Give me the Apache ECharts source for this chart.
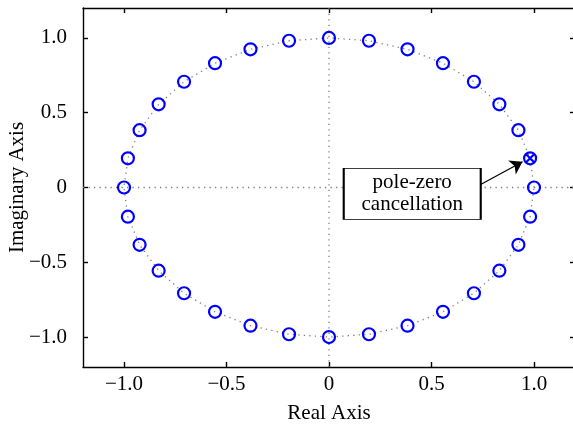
<!DOCTYPE html>
<html><head><meta charset="utf-8">
<script src="https://cdn.jsdelivr.net/npm/echarts@6/dist/echarts.min.js"></script>
<style>html,body{margin:0;padding:0;background:#fff}#c{width:573px;height:428px}</style>
</head><body><div id="c"></div>
<script>
// zeros (real, imaginary)
var zeroRe = [1, 0.981, 0.924, 0.831, 0.707, 0.556, 0.383, 0.195, 0, -0.195, -0.383, -0.556, -0.707, -0.831, -0.924, -0.981,
              -1, -0.981, -0.924, -0.831, -0.707, -0.556, -0.383, -0.195, 0, 0.195, 0.383, 0.556, 0.707, 0.831, 0.924, 0.981];
var zeroIm = [0, 0.195, 0.383, 0.556, 0.707, 0.831, 0.924, 0.981, 1, 0.981, 0.924, 0.831, 0.707, 0.556, 0.383, 0.195,
              0, -0.195, -0.383, -0.556, -0.707, -0.831, -0.924, -0.981, -1, -0.981, -0.924, -0.831, -0.707, -0.556, -0.383, -0.195];
var poleRe = [0.981];
var poleIm = [0.195];
var tickValues = [-1, -0.5, 0, 0.5, 1];
var tickLabels = ['\u22121.0', '\u22120.5', '0', '0.5', '1.0'];
var annotationText = 'pole-zero\ncancellation';
var annotationAt = [0.406, -0.043];
var arrowFrom = [0.74, 0.02];
var arrowTo = [0.944, 0.172];
var axisMin = -1.2, axisMax = 1.2;

var zeros = zeroRe.map(function (r, i) { return [r, zeroIm[i]]; });
var poles = poleRe.map(function (r, i) { return [r, poleIm[i]]; });
var loop = zeros.concat([zeros[0]]);

var font = 'Liberation Serif';
var fs = 21;
function fmt(v) {
  for (var i = 0; i < tickValues.length; i++) if (Math.abs(tickValues[i] - v) < 1e-9) return tickLabels[i];
  return '';
}
var dotted = { color: '#7f7f7f', width: 1.3, type: [1.3, 4.2] };
function axisBase(extra) {
  var a = {
    type: 'value', min: axisMin, max: axisMax,
    axisLine: { show: true, onZero: false, lineStyle: { color: '#000', width: 1.4 } },
    axisTick: { show: true, inside: true, length: 5, lineStyle: { color: '#000', width: 1.4 }, customValues: tickValues },
    axisLabel: { show: false },
    splitLine: { show: false }
  };
  for (var k in extra) a[k] = extra[k];
  return a;
}

var chart = echarts.init(document.getElementById('c'), null, { renderer: 'canvas' });
chart.setOption({
  animation: false,
  backgroundColor: '#fff',
  grid: { left: 83, right: -2, top: 8, bottom: 61, containLabel: false, outerBoundsMode: 'none' },
  xAxis: [
    axisBase({ position: 'bottom', name: 'Real Axis', nameLocation: 'middle', nameGap: 36, nameMoveOverlap: false,
      nameTextStyle: { fontFamily: font, fontSize: fs, color: '#000' },
      axisLabel: { show: true, customValues: tickValues, formatter: fmt, margin: 7, fontFamily: font, fontSize: fs, color: '#000' } }),
    axisBase({ position: 'top' })
  ],
  yAxis: [
    axisBase({ position: 'left', name: 'Imaginary Axis', nameLocation: 'middle', nameGap: 55, nameMoveOverlap: false,
      nameTextStyle: { fontFamily: font, fontSize: fs, color: '#000' },
      axisLabel: { show: true, customValues: tickValues, formatter: fmt, margin: 16, fontFamily: font, fontSize: fs, color: '#000' } }),
    axisBase({ position: 'right', axisLine: { show: false, onZero: false, lineStyle: { color: 'rgba(0,0,0,0)' } } })
  ],
  series: [
    { type: 'line', data: [[axisMin, 0], [axisMax, 0]], symbol: 'none', lineStyle: dotted, silent: true, z: 1 },
    { type: 'line', data: [[0, axisMin], [0, axisMax]], symbol: 'none', lineStyle: dotted, silent: true, z: 1 },
    { type: 'line', data: loop, symbol: 'none', lineStyle: dotted, silent: true, z: 1,
      markLine: {
        silent: true, symbol: ['none', 'arrow'], symbolSize: 12,
        lineStyle: { color: '#000', width: 1.2, type: 'solid' },
        label: { show: false },
        data: [[{ coord: arrowFrom }, { coord: arrowTo }]]
      },
      markPoint: {
        silent: true,
        symbol: 'rect', symbolSize: [137, 51],
        itemStyle: { color: '#fff', borderColor: '#000', borderWidth: 1.3 },
        label: { show: true, position: 'inside', formatter: annotationText, fontFamily: font, fontSize: fs, lineHeight: 22, color: '#000' },
        data: [{ coord: annotationAt }]
      }
    },
    { type: 'scatter', data: zeros, symbol: 'circle', symbolSize: 12, z: 3,
      itemStyle: { color: 'rgba(0,0,0,0)', borderColor: '#0000ff', borderWidth: 2.2, opacity: 1 } },
    { type: 'scatter', data: poles, symbol: 'path://M0,0L10,10M10,0L0,10', symbolSize: 8, z: 4,
      itemStyle: { color: 'rgba(0,0,0,0)', borderColor: '#0000ff', borderWidth: 2.2, opacity: 1 } }
  ]
});
</script></body></html>
